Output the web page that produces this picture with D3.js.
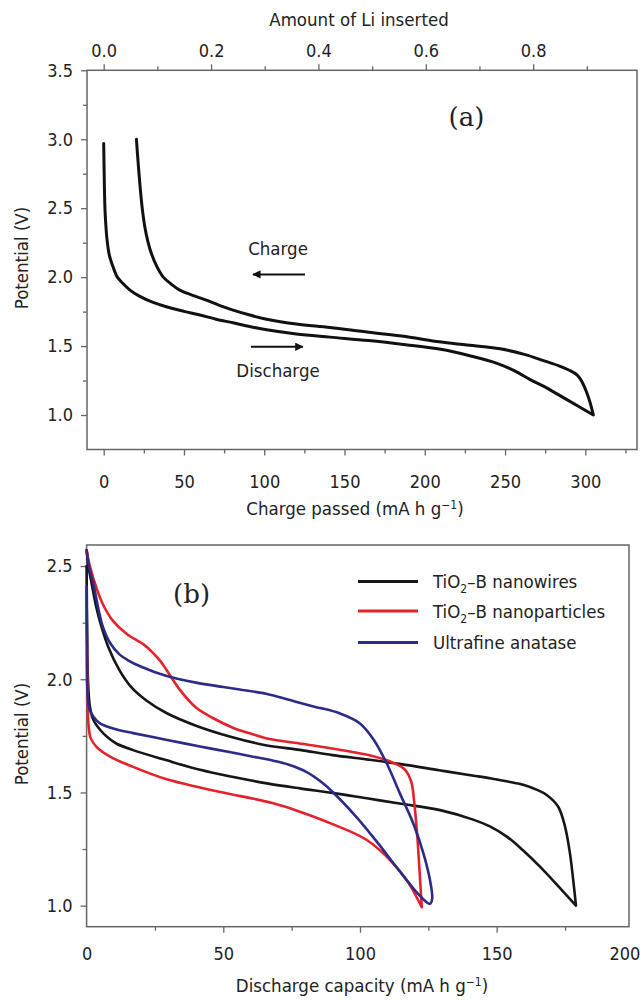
<!DOCTYPE html>
<html>
<head>
<meta charset="utf-8">
<script src="https://cdn.jsdelivr.net/npm/d3@7"></script>
<style>
  html, body { margin: 0; padding: 0; background: #fff; }
  svg { display: block; }
  text { font-family: "Liberation Sans Narrow", "DejaVu Sans Condensed", "Arial Narrow", sans-serif; fill: #222; }
</style>
</head>
<body>
<svg id="chart" width="641" height="1001"></svg>
<script>
// ---------- Panel (a): charge / discharge of TiO2-B nanowires ----------
const aTicksQ = [0, 50, 100, 150, 200, 250, 300];
const aTicksQMinor = [25, 75, 125, 175, 225, 275, 325];
const aTicksLi = [0.0, 0.2, 0.4, 0.6, 0.8];
const aTicksLiMinor = [0.1, 0.3, 0.5, 0.7, 0.9];
const aTicksV = [1.0, 1.5, 2.0, 2.5, 3.0, 3.5];
const aTicksVMinor = [1.25, 1.75, 2.25, 2.75, 3.25];
const liCapacity = 334.4; // mA h g-1 corresponding to one Li per TiO2

// [charge passed (mA h g-1), potential (V)]
const aDischarge = [
  [0, 2.97], [0.3, 2.75], [0.8, 2.49], [1.5, 2.35], [2.1, 2.27], [3.5, 2.16],
  [5.8, 2.075], [8.5, 2.0], [12, 1.954], [17, 1.9], [22.5, 1.86], [30, 1.82],
  [39, 1.785], [50, 1.752], [60, 1.725], [70, 1.695], [80.6, 1.669], [91, 1.642],
  [101.5, 1.618], [120, 1.588], [141, 1.565], [165, 1.54], [188, 1.51],
  [210, 1.477], [228, 1.43], [245, 1.375], [256, 1.32], [266, 1.255],
  [277, 1.19], [288, 1.115], [297, 1.055], [305, 1.0]
];
const aCharge = [
  [20.4, 3.0], [21, 2.9], [22.5, 2.68], [24, 2.5], [25.6, 2.365], [27.5, 2.26],
  [29.7, 2.172], [33, 2.08], [37, 2.002], [42, 1.95], [47.4, 1.906], [55, 1.87],
  [64, 1.833], [72, 1.795], [80.6, 1.761], [91, 1.725], [101.5, 1.695],
  [120, 1.66], [141, 1.635], [165, 1.6], [188, 1.57], [205, 1.537], [225, 1.51],
  [247, 1.48], [262, 1.44], [274, 1.395], [284, 1.355], [290, 1.325],
  [295, 1.29], [298, 1.24], [301, 1.16], [303, 1.09], [305, 1.0]
];

// ---------- Panel (b): three TiO2 materials ----------
const bTicksQ = [0, 50, 100, 150, 200];
const bTicksQMinor = [25, 75, 125, 175];
const bTicksV = [1.0, 1.5, 2.0, 2.5];
const bTicksVMinor = [1.25, 1.75, 2.25];

const seriesNames = ["TiO2–B nanowires", "TiO2–B nanoparticles", "Ultrafine anatase"];
const seriesColors = ["#161616", "#e5222b", "#2d2b88"];

// [discharge capacity (mA h g-1), potential (V)]
const nanowiresDischarge = [
  [0, 2.5], [0.2, 2.2], [0.5, 2.0], [1.2, 1.88], [2.5, 1.82], [5, 1.776],
  [8, 1.74], [11, 1.715], [17, 1.687], [29, 1.643], [41.5, 1.6], [53.7, 1.568],
  [66, 1.54], [78, 1.518], [90, 1.498], [102.5, 1.474], [115, 1.45],
  [129.3, 1.422], [141.4, 1.38], [147.5, 1.35], [153.7, 1.305], [160, 1.24],
  [166, 1.17], [172, 1.093], [179, 1.0]
];
const nanowiresCharge = [
  [0, 2.57], [0.8, 2.49], [1.9, 2.42], [3.5, 2.32], [5, 2.25], [8, 2.14],
  [12, 2.04], [16, 1.97], [22, 1.905], [29, 1.852], [40, 1.795], [53, 1.745],
  [65, 1.71], [78, 1.688], [90, 1.665], [103, 1.645], [115, 1.625],
  [129, 1.598], [141, 1.575], [148, 1.562], [154, 1.548], [160, 1.533],
  [165, 1.51], [168.3, 1.489], [172.5, 1.437], [175, 1.349], [176.8, 1.231],
  [178, 1.113], [179, 1.0]
];
const nanoparticlesDischarge = [
  [0, 2.35], [0.3, 2.0], [0.7, 1.8], [1.5, 1.74], [3.7, 1.7], [8.6, 1.658],
  [17, 1.613], [29.3, 1.558], [41.5, 1.522], [53.7, 1.49], [60, 1.475],
  [68.3, 1.452], [78, 1.415], [90, 1.36], [102.5, 1.29], [111.5, 1.195],
  [117.5, 1.105], [122.6, 0.993]
];
const nanoparticlesCharge = [
  [0, 2.57], [1.2, 2.5], [3.7, 2.4], [6, 2.33], [9.5, 2.26], [14.7, 2.2],
  [20.7, 2.155], [24, 2.12], [27, 2.08], [29.3, 2.04], [34.2, 1.952],
  [40, 1.875], [46, 1.83], [53.7, 1.785], [60, 1.76], [66, 1.738],
  [80.5, 1.712], [92, 1.69], [104.9, 1.66], [112, 1.632], [116.5, 1.6],
  [118.8, 1.545], [119.8, 1.46], [121, 1.3], [121.8, 1.15], [122.6, 0.993]
];
const anataseDischarge = [
  [0, 2.41], [0.1, 2.2], [0.3, 1.95], [1, 1.87], [2.5, 1.834], [4.9, 1.805],
  [11, 1.778], [17, 1.762], [29, 1.733], [41.5, 1.703], [53.7, 1.675],
  [60, 1.66], [68.3, 1.64], [74, 1.622], [80.5, 1.59], [86, 1.545],
  [90.2, 1.5], [98.8, 1.39], [107.3, 1.265], [113, 1.175], [117.1, 1.113],
  [121, 1.055], [124.4, 1.015], [125.6, 1.008]
];
const anataseCharge = [
  [0, 2.57], [1, 2.49], [2.5, 2.42], [4.5, 2.3], [6, 2.23], [8.6, 2.16],
  [12, 2.11], [15, 2.085], [20, 2.055], [29, 2.015], [40, 1.985], [50, 1.966],
  [56, 1.955], [66, 1.935], [74.4, 1.908], [83, 1.88], [92.7, 1.849],
  [100, 1.805], [104.9, 1.735], [109.8, 1.628], [114.6, 1.496], [119.5, 1.363],
  [123.2, 1.231], [125.6, 1.113], [126.4, 1.03]
];
const bLoops = [
  [nanowiresDischarge, nanowiresCharge],
  [nanoparticlesDischarge, nanoparticlesCharge],
  [anataseDischarge, anataseCharge]
];

// ---------- drawing ----------
const svg = d3.select("#chart");
const axisColor = "#666";
const tickFont = 18;
const titleFont = 18.5;

// a cycle is drawn as one path: discharge forward, then charge back
function loopPoints(discharge, charge) {
  return discharge.concat(charge.slice().reverse());
}

function styleAxis(g) {
  g.select(".domain").remove();
  g.selectAll(".tick line").attr("stroke", axisColor).attr("stroke-width", 1.3);
  g.selectAll(".tick text").style("font-size", tickFont + "px").attr("fill", "#222");
}

function minorAxis(axisFn, scale, values, size) {
  return axisFn(scale).tickValues(values).tickSize(size).tickFormat("");
}

// ===== Panel (a) =====
const A = { left: 87, right: 637, top: 70.3, bottom: 449.5 };
const xA = d3.scaleLinear().domain([-10.4, 332.2]).range([A.left, A.right]);
const xLi = d3.scaleLinear().domain([-10.4 / liCapacity, 332.2 / liCapacity]).range([A.left, A.right]);
const yA = d3.scaleLinear().domain([0.75, 3.5]).range([A.bottom, A.top]);

const gA = svg.append("g");

gA.append("g").attr("transform", `translate(0,${A.bottom})`)
  .call(d3.axisBottom(xA).tickValues(aTicksQ).tickSize(6).tickPadding(20).tickFormat(d3.format("d")))
  .call(styleAxis);
gA.append("g").attr("transform", `translate(0,${A.bottom})`)
  .call(minorAxis(d3.axisBottom, xA, aTicksQMinor, 4)).call(styleAxis);

gA.append("g").attr("transform", `translate(0,${A.top})`)
  .call(d3.axisTop(xLi).tickValues(aTicksLi).tickSize(6).tickPadding(7).tickFormat(d3.format(".1f")))
  .call(styleAxis);
gA.append("g").attr("transform", `translate(0,${A.top})`)
  .call(minorAxis(d3.axisTop, xLi, aTicksLiMinor, 4)).call(styleAxis);

gA.append("g").attr("transform", `translate(${A.left},0)`)
  .call(d3.axisLeft(yA).tickValues(aTicksV).tickSize(6).tickPadding(8).tickFormat(d3.format(".1f")))
  .call(styleAxis);
gA.append("g").attr("transform", `translate(${A.left},0)`)
  .call(minorAxis(d3.axisLeft, yA, aTicksVMinor, 4)).call(styleAxis);

gA.append("rect")
  .attr("x", A.left).attr("y", A.top)
  .attr("width", A.right - A.left).attr("height", A.bottom - A.top)
  .attr("fill", "none").attr("stroke", axisColor).attr("stroke-width", 1.5);

const lineA = d3.line().x(d => xA(d[0])).y(d => yA(d[1])).curve(d3.curveCatmullRom.alpha(0.5));
gA.append("path")
  .attr("d", lineA(loopPoints(aDischarge, aCharge)))
  .attr("fill", "none").attr("stroke", "#111").attr("stroke-width", 3)
  .attr("stroke-linejoin", "round").attr("stroke-linecap", "round");

// axis titles
gA.append("text").attr("x", 359).attr("y", 26).attr("text-anchor", "middle")
  .style("font-size", titleFont + "px").text("Amount of Li inserted");
const aXTitle = gA.append("text").attr("x", 355).attr("y", 515).attr("text-anchor", "middle")
  .style("font-size", titleFont + "px");
aXTitle.append("tspan").text("Charge passed (mA h g");
aXTitle.append("tspan").attr("dy", -6).style("font-size", "12px").text("−1");
aXTitle.append("tspan").attr("dy", 6).text(")");
gA.append("text").attr("transform", "translate(28,258) rotate(-90)").attr("text-anchor", "middle")
  .style("font-size", titleFont + "px").text("Potential (V)");

// annotations
gA.append("text").attr("x", xA(226)).attr("y", yA(3.16)).attr("dy", "0.35em")
  .attr("text-anchor", "middle").attr("fill", "#333")
  .style("font-family", "'DejaVu Serif', 'Liberation Serif', serif").style("font-size", "26px")
  .text("(a)");

const defs = svg.append("defs");
defs.append("marker").attr("id", "arrowHead")
  .attr("viewBox", "0 0 10 10").attr("refX", 9).attr("refY", 5)
  .attr("markerWidth", 4.2).attr("markerHeight", 4.2).attr("markerUnits", "strokeWidth")
  .attr("orient", "auto")
  .append("path").attr("d", "M0,0 L10,5 L0,10 z").attr("fill", "#111");

gA.append("text").attr("x", xA(108.6)).attr("y", yA(2.21)).attr("dy", "0.35em")
  .attr("text-anchor", "middle").style("font-size", titleFont + "px").text("Charge");
gA.append("line")
  .attr("x1", xA(125.4)).attr("x2", xA(93)).attr("y1", yA(2.02)).attr("y2", yA(2.02))
  .attr("stroke", "#111").attr("stroke-width", 2).attr("marker-end", "url(#arrowHead)");
gA.append("line")
  .attr("x1", xA(91.7)).attr("x2", xA(124)).attr("y1", yA(1.495)).attr("y2", yA(1.495))
  .attr("stroke", "#111").attr("stroke-width", 2).attr("marker-end", "url(#arrowHead)");
gA.append("text").attr("x", xA(108.6)).attr("y", yA(1.32)).attr("dy", "0.35em")
  .attr("text-anchor", "middle").style("font-size", titleFont + "px").text("Discharge");

// ===== Panel (b) =====
const B = { left: 86.6, right: 629, top: 545, bottom: 926.7 };
const xB = d3.scaleLinear().domain([0, 198.4]).range([B.left, B.right]);
const yB = d3.scaleLinear().domain([0.907, 2.593]).range([B.bottom, B.top]);

const gB = svg.append("g");

const bBottom = gB.append("g").attr("transform", `translate(0,${B.bottom})`)
  .call(d3.axisBottom(xB).tickValues(bTicksQ).tickSize(6).tickPadding(15).tickFormat(d3.format("d")))
  .call(styleAxis);
// the last label sits at the panel edge, its tick falls outside the frame
bBottom.selectAll(".tick").filter(d => d === 200).select("line").remove();
bBottom.selectAll(".tick").filter(d => d === 200).select("text").attr("dx", -9);
bBottom.selectAll(".tick").filter(d => d === 0).select("line").remove();
gB.append("g").attr("transform", `translate(0,${B.bottom})`)
  .call(minorAxis(d3.axisBottom, xB, bTicksQMinor, 4)).call(styleAxis);

gB.append("g").attr("transform", `translate(${B.left},0)`)
  .call(d3.axisLeft(yB).tickValues(bTicksV).tickSize(6).tickPadding(8).tickFormat(d3.format(".1f")))
  .call(styleAxis);
gB.append("g").attr("transform", `translate(${B.left},0)`)
  .call(minorAxis(d3.axisLeft, yB, bTicksVMinor, 4)).call(styleAxis);

gB.append("rect")
  .attr("x", B.left).attr("y", B.top)
  .attr("width", B.right - B.left).attr("height", B.bottom - B.top)
  .attr("fill", "none").attr("stroke", axisColor).attr("stroke-width", 1.5);

const lineB = d3.line().x(d => xB(d[0])).y(d => yB(d[1])).curve(d3.curveCatmullRom.alpha(0.5));
gB.selectAll("path.loop")
  .data(bLoops)
  .join("path")
  .attr("class", "loop")
  .attr("d", d => lineB(loopPoints(d[0], d[1])))
  .attr("fill", "none")
  .attr("stroke", (d, i) => seriesColors[i])
  .attr("stroke-width", 2.6)
  .attr("stroke-linejoin", "round").attr("stroke-linecap", "round");

// legend
const legendY = [581.5, 611, 642.5];
const legend = gB.selectAll("g.legend")
  .data(seriesNames)
  .join("g").attr("class", "legend")
  .attr("transform", (d, i) => `translate(358,${legendY[i]})`);
legend.append("line").attr("x1", 0).attr("x2", 60)
  .attr("stroke", (d, i) => seriesColors[i]).attr("stroke-width", 3.2);
legend.each(function (name) {
  const t = d3.select(this).append("text").attr("x", 75).attr("dy", "0.36em").style("font-size", "18.5px");
  const m = name.match(/^TiO2(.*)$/);
  if (m) {
    t.append("tspan").text("TiO");
    t.append("tspan").attr("dy", 5).style("font-size", "12px").text("2");
    t.append("tspan").attr("dy", -5).text(m[1]);
  } else {
    t.text(name);
  }
});

gB.append("text").attr("x", xB(38.4)).attr("y", yB(2.379)).attr("dy", "0.35em")
  .attr("text-anchor", "middle").attr("fill", "#333")
  .style("font-family", "'DejaVu Serif', 'Liberation Serif', serif").style("font-size", "26px")
  .text("(b)");

const bXTitle = gB.append("text").attr("x", 362).attr("y", 992).attr("text-anchor", "middle")
  .style("font-size", titleFont + "px");
bXTitle.append("tspan").text("Discharge capacity (mA h g");
bXTitle.append("tspan").attr("dy", -6).style("font-size", "12px").text("−1");
bXTitle.append("tspan").attr("dy", 6).text(")");
gB.append("text").attr("transform", "translate(28,734) rotate(-90)").attr("text-anchor", "middle")
  .style("font-size", titleFont + "px").text("Potential (V)");
</script>
</body>
</html>
